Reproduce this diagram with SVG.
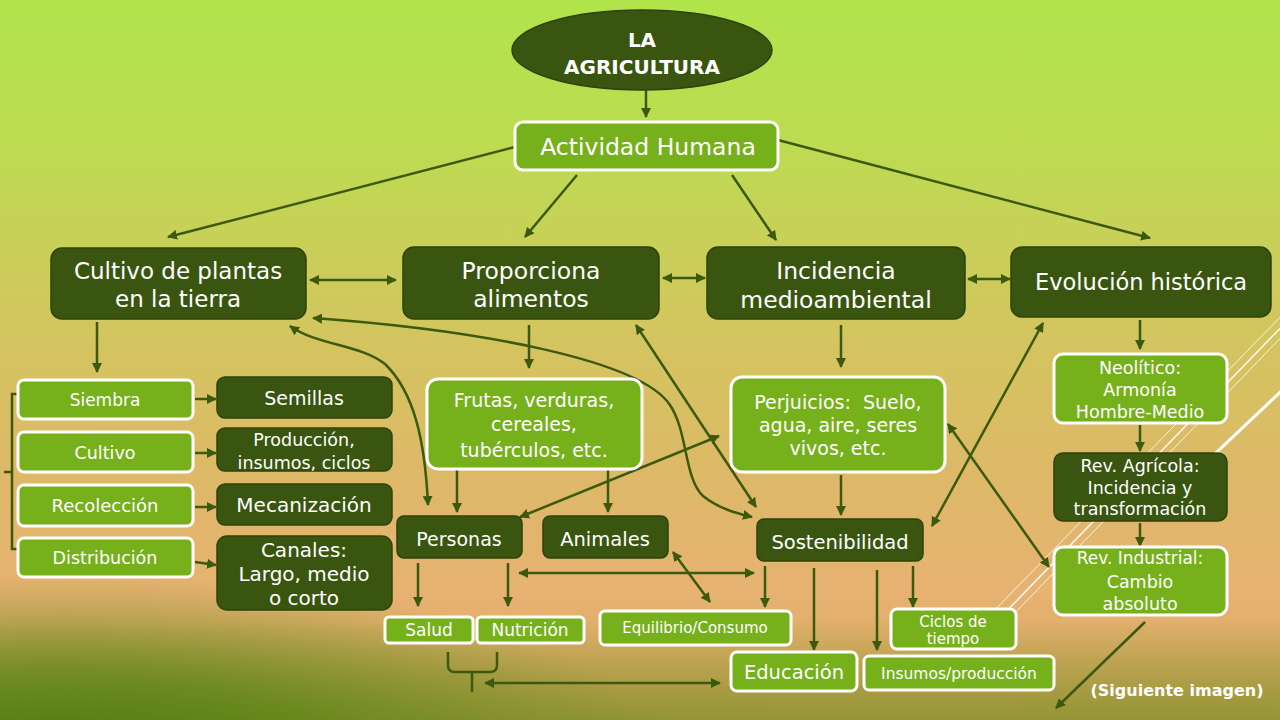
<svg xmlns="http://www.w3.org/2000/svg" width="1280" height="720" viewBox="0 0 1280 720">
<defs>
<linearGradient id="bg" x1="0" y1="0" x2="0" y2="1">
<stop offset="0" stop-color="#b1e44b"/>
<stop offset="0.2" stop-color="#bddb51"/>
<stop offset="0.45" stop-color="#d2c65e"/>
<stop offset="0.65" stop-color="#ddb967"/>
<stop offset="0.82" stop-color="#e7b272"/>
<stop offset="1" stop-color="#d2a85c"/>
</linearGradient>
<linearGradient id="bot" gradientUnits="userSpaceOnUse" x1="0" y1="620" x2="0" y2="720">
<stop offset="0" stop-color="#7e8e28" stop-opacity="0"/>
<stop offset="1" stop-color="#7e8e28" stop-opacity="0.75"/>
</linearGradient>
<radialGradient id="bl" gradientUnits="userSpaceOnUse" cx="60" cy="760" r="620" gradientTransform="translate(60 760) scale(1 0.3) translate(-60 -760)">
<stop offset="0" stop-color="#477a0a" stop-opacity="1"/>
<stop offset="0.45" stop-color="#5a8414" stop-opacity="0.75"/>
<stop offset="1" stop-color="#6f8c20" stop-opacity="0"/>
</radialGradient>
<marker id="a" viewBox="0 0 10 10" refX="9" refY="5" markerWidth="10" markerHeight="10" markerUnits="userSpaceOnUse" orient="auto-start-reverse">
<path d="M0,0 L10,5 L0,10 z" fill="#3b5a0e"/>
</marker>
<style>
.dk{fill:#3a5510;stroke:#2c430a;stroke-width:1.5}
.lt{fill:#76b11b;stroke:#ffffff;stroke-width:3}
.t{font-family:"DejaVu Sans","Liberation Sans",sans-serif;fill:#ffffff;text-anchor:middle}
.c{fill:none;stroke:#3b5a0e;stroke-width:2.5}
.e{marker-end:url(#a)}
.b{marker-start:url(#a);marker-end:url(#a)}
.deco{stroke:#ffffff;fill:none}
</style>
</defs>
<rect width="1280" height="720" fill="url(#bg)"/>
<rect y="620" width="1280" height="100" fill="url(#bot)"/>
<rect width="1280" height="720" fill="url(#bl)"/>
<g id="decoration">
<line class="deco" x1="1292" y1="305" x2="985" y2="620" stroke-width="1" opacity="0.8"/>
<line class="deco" x1="1292" y1="316" x2="998" y2="620" stroke-width="1.5" opacity="0.9"/>
<line class="deco" x1="1292" y1="326" x2="1010" y2="618" stroke-width="1" opacity="0.8"/>
<line class="deco" x1="1292" y1="381" x2="1200" y2="468" stroke-width="3"/>
</g>
<g id="connectors">
<line class="c e" x1="646" y1="90" x2="646" y2="117"/>
<line class="c e" x1="515" y1="147" x2="168" y2="237"/>
<line class="c e" x1="577" y1="175" x2="525" y2="237"/>
<line class="c e" x1="732" y1="175" x2="776" y2="240"/>
<line class="c e" x1="778" y1="140" x2="1150" y2="238"/>
<line class="c b" x1="310" y1="280" x2="396" y2="280"/>
<line class="c b" x1="663" y1="278" x2="705" y2="278"/>
<line class="c b" x1="968" y1="279" x2="1010" y2="279"/>
<line class="c e" x1="97" y1="322" x2="97" y2="372"/>
<line class="c e" x1="195" y1="399" x2="216" y2="399"/>
<line class="c e" x1="195" y1="453" x2="216" y2="453"/>
<line class="c e" x1="195" y1="507" x2="216" y2="507"/>
<line class="c e" x1="195" y1="562" x2="216" y2="565"/>
<path class="c" d="M20,394 H12 V549 H20 M12,472 H4"/>
<line class="c e" x1="529" y1="325" x2="529" y2="368"/>
<line class="c e" x1="457" y1="470" x2="457" y2="512"/>
<line class="c e" x1="608" y1="470" x2="608" y2="512"/>
<line class="c e" x1="841" y1="325" x2="841" y2="367"/>
<line class="c e" x1="841" y1="475" x2="841" y2="515"/>
<line class="c e" x1="418" y1="563" x2="418" y2="606"/>
<line class="c e" x1="508" y1="563" x2="508" y2="606"/>
<line class="c e" x1="765" y1="566" x2="765" y2="607"/>
<line class="c e" x1="814" y1="568" x2="814" y2="650"/>
<line class="c e" x1="877" y1="570" x2="877" y2="650"/>
<line class="c e" x1="913" y1="566" x2="913" y2="607"/>
<line class="c e" x1="1140" y1="320" x2="1140" y2="349"/>
<line class="c e" x1="1140" y1="425" x2="1140" y2="451"/>
<line class="c e" x1="1140" y1="523" x2="1140" y2="546"/>
<line class="c e" x1="1145" y1="622" x2="1056" y2="708"/>
<path class="c b" d="M313,318 C480,330 640,360 670,405 C688,432 684,478 703,496 C718,508 735,513 752,517"/>
<path class="c b" d="M290,326 C318,346 360,344 385,364 C414,392 425,440 428,505"/>
<line class="c b" x1="636" y1="325" x2="756" y2="507"/>
<line class="c b" x1="520" y1="517" x2="719" y2="436"/>
<line class="c b" x1="932" y1="526" x2="1043" y2="323"/>
<line class="c b" x1="948" y1="424" x2="1049" y2="567"/>
<line class="c b" x1="519" y1="573" x2="754" y2="573"/>
<line class="c b" x1="673" y1="552" x2="710" y2="602"/>
<line class="c b" x1="485" y1="683" x2="720" y2="683"/>
<path class="c" d="M448,652 V665 Q448,672 455,672 H490 Q497,672 497,665 V652 M472,672 V692"/>
</g>
<g id="n-title">
<ellipse cx="642" cy="50" rx="130" ry="40" fill="#3a5510" stroke="#2c430a" stroke-width="1.5"/>
<text class="t" x="642" y="46.5" font-size="20" font-weight="bold">LA</text>
<text class="t" x="642" y="74" font-size="20" font-weight="bold">AGRICULTURA</text>
</g>
<g id="n-actividad">
<rect class="lt" x="515" y="122" width="263" height="48" rx="8"/>
<text class="t" x="648" y="154.5" font-size="23.5">Actividad Humana</text>
</g>
<g id="n-cultivo-plantas">
<rect class="dk" x="51" y="248" width="255" height="71" rx="11"/>
<text class="t" x="178" y="278.5" font-size="23">Cultivo de plantas</text>
<text class="t" x="178" y="306.5" font-size="23">en la tierra</text>
</g>
<g id="n-proporciona">
<rect class="dk" x="403" y="247" width="256" height="72" rx="11"/>
<text class="t" x="531" y="278.5" font-size="23.5">Proporciona</text>
<text class="t" x="531" y="306.5" font-size="23.5">alimentos</text>
</g>
<g id="n-incidencia">
<rect class="dk" x="707" y="247" width="258" height="72" rx="11"/>
<text class="t" x="836" y="278.5" font-size="23.5">Incidencia</text>
<text class="t" x="836" y="307.5" font-size="23.5">medioambiental</text>
</g>
<g id="n-evolucion">
<rect class="dk" x="1011" y="247" width="260" height="70" rx="11"/>
<text class="t" x="1141" y="290" font-size="22.5">Evolución histórica</text>
</g>
<g id="n-siembra">
<rect class="lt" x="18" y="380" width="175" height="39" rx="6"/>
<text class="t" x="105" y="405.5" font-size="17">Siembra</text>
</g>
<g id="n-cultivo">
<rect class="lt" x="18" y="432" width="175" height="40" rx="6"/>
<text class="t" x="105" y="458.5" font-size="17.5">Cultivo</text>
</g>
<g id="n-recoleccion">
<rect class="lt" x="18" y="485" width="175" height="41" rx="6"/>
<text class="t" x="105" y="512" font-size="18">Recolección</text>
</g>
<g id="n-distribucion">
<rect class="lt" x="18" y="538" width="175" height="39" rx="6"/>
<text class="t" x="105" y="564" font-size="17.5">Distribución</text>
</g>
<g id="n-semillas">
<rect class="dk" x="217" y="377" width="175" height="41" rx="8"/>
<text class="t" x="304" y="405" font-size="19">Semillas</text>
</g>
<g id="n-produccion">
<rect class="dk" x="217" y="428" width="175" height="43" rx="8"/>
<text class="t" x="304" y="445.5" font-size="17.5">Producción,</text>
<text class="t" x="304" y="468.5" font-size="17.5">insumos, ciclos</text>
</g>
<g id="n-mecanizacion">
<rect class="dk" x="217" y="484" width="175" height="41" rx="8"/>
<text class="t" x="304" y="512" font-size="20">Mecanización</text>
</g>
<g id="n-canales">
<rect class="dk" x="217" y="536" width="175" height="74" rx="10"/>
<text class="t" x="304" y="557" font-size="20">Canales:</text>
<text class="t" x="304" y="581" font-size="20">Largo, medio</text>
<text class="t" x="304" y="605" font-size="20">o corto</text>
</g>
<g id="n-frutas">
<rect class="lt" x="427" y="379" width="215" height="90" rx="11"/>
<text class="t" x="534" y="407" font-size="19">Frutas, verduras,</text>
<text class="t" x="534" y="431" font-size="19">cereales,</text>
<text class="t" x="534" y="457" font-size="19">tubérculos, etc.</text>
</g>
<g id="n-perjuicios">
<rect class="lt" x="731" y="377" width="214" height="95" rx="11"/>
<text class="t" x="838" y="409" font-size="19">Perjuicios:&#160; Suelo,</text>
<text class="t" x="838" y="432" font-size="19">agua, aire, seres</text>
<text class="t" x="838" y="455" font-size="19">vivos, etc.</text>
</g>
<g id="n-personas">
<rect class="dk" x="397" y="516" width="125" height="42" rx="7"/>
<text class="t" x="459" y="546" font-size="19">Personas</text>
</g>
<g id="n-animales">
<rect class="dk" x="543" y="516" width="125" height="42" rx="7"/>
<text class="t" x="605" y="546" font-size="19.5">Animales</text>
</g>
<g id="n-sostenibilidad">
<rect class="dk" x="757" y="519" width="166" height="42" rx="7"/>
<text class="t" x="840" y="549" font-size="19.5">Sostenibilidad</text>
</g>
<g id="n-salud">
<rect class="lt" x="385" y="617" width="88" height="26" rx="4"/>
<text class="t" x="429" y="635.5" font-size="17">Salud</text>
</g>
<g id="n-nutricion">
<rect class="lt" x="477" y="617" width="107" height="26" rx="4"/>
<text class="t" x="530" y="635.5" font-size="17">Nutrición</text>
</g>
<g id="n-equilibrio">
<rect class="lt" x="600" y="611" width="191" height="34" rx="5"/>
<text class="t" x="695" y="633" font-size="15">Equilibrio/Consumo</text>
</g>
<g id="n-educacion">
<rect class="lt" x="731" y="652" width="126" height="39" rx="6"/>
<text class="t" x="794" y="678.5" font-size="19.5">Educación</text>
</g>
<g id="n-insumos">
<rect class="lt" x="864" y="656" width="190" height="34" rx="5"/>
<text class="t" x="959" y="678.5" font-size="15.5">Insumos/producción</text>
</g>
<g id="n-ciclos">
<rect class="lt" x="891" y="609" width="125" height="40" rx="6"/>
<text class="t" x="953" y="627" font-size="15">Ciclos de</text>
<text class="t" x="953" y="644" font-size="15">tiempo</text>
</g>
<g id="n-neolitico">
<rect class="lt" x="1054" y="354" width="173" height="69" rx="9"/>
<text class="t" x="1140" y="373.5" font-size="17.5">Neolítico:</text>
<text class="t" x="1140" y="395.5" font-size="17.5">Armonía</text>
<text class="t" x="1140" y="418" font-size="17.5">Hombre-Medio</text>
</g>
<g id="n-rev-agricola">
<rect class="dk" x="1054" y="453" width="173" height="68" rx="9"/>
<text class="t" x="1140" y="472" font-size="17.5">Rev. Agrícola:</text>
<text class="t" x="1140" y="493.5" font-size="17.5">Incidencia y</text>
<text class="t" x="1140" y="515" font-size="17.5">transformación</text>
</g>
<g id="n-rev-industrial">
<rect class="lt" x="1054" y="547" width="173" height="68" rx="9"/>
<text class="t" x="1140" y="564" font-size="17">Rev. Industrial:</text>
<text class="t" x="1140" y="587.5" font-size="17.5">Cambio</text>
<text class="t" x="1140" y="610" font-size="17.5">absoluto</text>
</g>
<g id="n-siguiente">
<text class="t" x="1177" y="696" font-size="16" font-weight="bold">(Siguiente imagen)</text>
</g>
</svg>
